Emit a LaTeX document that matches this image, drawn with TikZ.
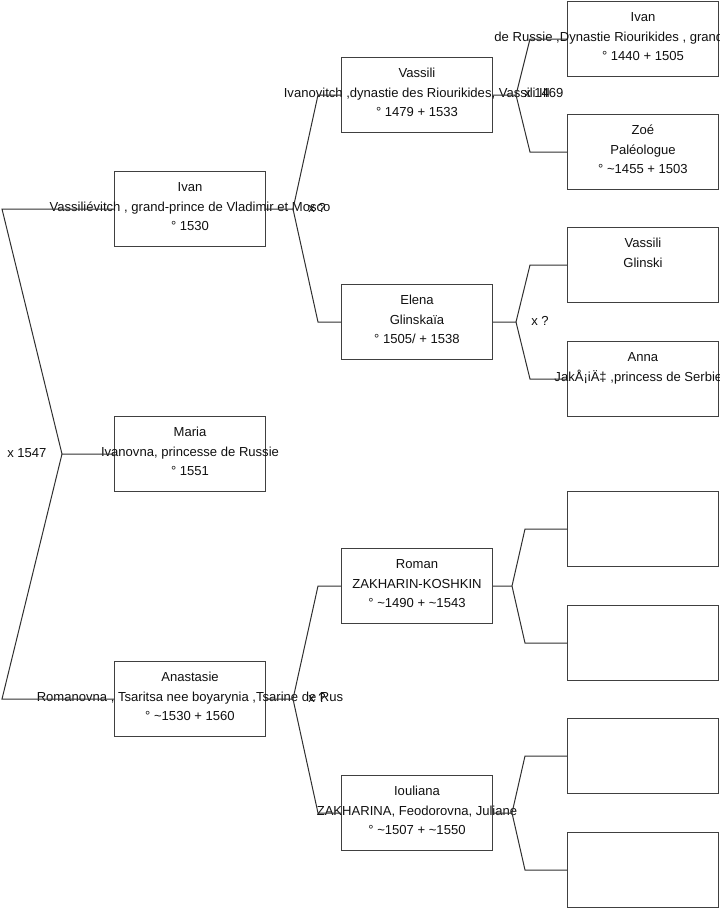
\documentclass[tikz,border=0pt]{standalone}
\usepackage{fontspec}
\setmainfont{Liberation Sans}
\usepackage{tikz}
\usetikzlibrary{calc}
\definecolor{treeInk}{HTML}{101010}
\definecolor{treeLine}{HTML}{303030}
\definecolor{treeFrame}{HTML}{404040}
% three centred lines, set from the top of the card
\newcommand{\card}[3]{\parbox[c][56.25pt][t]{113.25pt}{\vspace*{4.6pt}\centering
  \makebox[0pt]{\strut #1}\\\makebox[0pt]{\strut #2}\\\makebox[0pt]{\strut #3}}}
% a line that starts a given distance left of the card centre
\newcommand{\fromleft}[2]{\makebox[0pt][l]{\hspace*{-#1}#2}}
\tikzset{
  tree/card/.style  = {draw=treeFrame, line width=0.75pt, inner sep=0pt, anchor=north west,
                       minimum width=113.25pt, minimum height=56.25pt,
                       font=\fontsize{9.8}{14.8}\selectfont, text=treeInk},
  tree/link/.style  = {draw=treeLine, line width=0.75pt},
  tree/union/.style = {inner sep=0pt, anchor=west, font=\fontsize{9.8}{11}\selectfont, text=treeInk},
}

\begin{document}
\begin{tikzpicture}[x=0.75pt, y=-0.75pt]
  \useasboundingbox (0,0) rectangle (719,908);
  % generation 1
  \node[tree/card] (ivan1) at (114,171)
        {\card{Ivan}{Vassiliévitch , grand-prince de Vladimir et Mosco}{° 1530}};
  \node[tree/card] (maria) at (114,416)
        {\card{Maria}{Ivanovna, princesse de Russie}{° 1551}};
  \node[tree/card] (anast) at (114,661)
        {\card{Anastasie}{Romanovna , Tsaritsa nee boyarynia ,Tsarine de Rus}{° \textasciitilde1530 + 1560}};
  % generation 2
  \node[tree/card] (vassili2) at (341,57)
        {\card{Vassili}{Ivanovitch ,dynastie des Riourikides,  Vassili III}{° 1479 + 1533}};
  \node[tree/card] (elena) at (341,284)
        {\card{Elena}{Glinskaïa}{° 1505/ + 1538}};
  \node[tree/card] (roman) at (341,548)
        {\card{Roman}{ZAKHARIN-KOSHKIN}{° \textasciitilde1490 + \textasciitilde1543}};
  \node[tree/card] (iouliana) at (341,775)
        {\card{Iouliana}{ZAKHARINA, Feodorovna, Juliane}{° \textasciitilde1507 + \textasciitilde1550}};
  % generation 3
  \node[tree/card] (ivan3) at (567,1)
        {\card{Ivan}{\fromleft{111.4pt}{de Russie ,Dynastie Riourikides , grand-prince}}{° 1440 + 1505}};
  \node[tree/card] (zoe) at (567,114)
        {\card{Zoé}{Paléologue}{° \textasciitilde1455 + 1503}};
  \node[tree/card] (glinski) at (567,227) {\card{Vassili}{Glinski}{}};
  \node[tree/card] (anna) at (567,341)
        {\card{Anna}{\fromleft{66.4pt}{JakÅ¡iÄ‡ ,princess de Serbie}}{}};
  \node[tree/card] (romanF) at (567,491) {};
  \node[tree/card] (romanM) at (567,605) {};
  \node[tree/card] (ioulianaF) at (567,718) {};
  \node[tree/card] (ioulianaM) at (567,832) {};
  % parents of Maria
  \coordinate (mariaM) at ($(maria.west)+(-52,0)$);
  \draw[tree/link] (ivan1.west) -- ++(-112,0) -- (mariaM) -- (maria.west);
  \draw[tree/link] (anast.west) -- ++(-112,0) -- (mariaM);
  \node[tree/union] (uMaria) at ($(mariaM)+(-55,-1)$) {x 1547};
  % parents of Ivan
  \coordinate (ivanM) at ($(ivan1.east)+(27,0)$);
  \draw[tree/link] (ivan1.east) -- (ivanM) -- ($(vassili2.west)+(-23,0)$) -- (vassili2.west);
  \draw[tree/link] (ivanM) -- ($(elena.west)+(-23,0)$) -- (elena.west);
  \node[tree/union] (uIvan) at ($(ivanM)+(15,-1)$) {x ?};
  % parents of Anastasie
  \coordinate (anastM) at ($(anast.east)+(27,0)$);
  \draw[tree/link] (anast.east) -- (anastM) -- ($(roman.west)+(-23,0)$) -- (roman.west);
  \draw[tree/link] (anastM) -- ($(iouliana.west)+(-23,0)$) -- (iouliana.west);
  \node[tree/union] (uAnast) at ($(anastM)+(15,-1)$) {x ?};
  % parents of Vassili
  \coordinate (vassiliM) at ($(vassili2.east)+(23,0)$);
  \draw[tree/link] (vassili2.east) -- (vassiliM) -- ($(ivan3.west)+(-37,0)$) -- (ivan3.west);
  \draw[tree/link] (vassiliM) -- ($(zoe.west)+(-37,0)$) -- (zoe.west);
  \node[tree/union] (uVassili) at ($(vassiliM)+(8,-2)$) {x 1469};
  % parents of Elena
  \coordinate (elenaM) at ($(elena.east)+(23,0)$);
  \draw[tree/link] (elena.east) -- (elenaM) -- ($(glinski.west)+(-37,0)$) -- (glinski.west);
  \draw[tree/link] (elenaM) -- ($(anna.west)+(-37,0)$) -- (anna.west);
  \node[tree/union] (uElena) at ($(elenaM)+(15,-1)$) {x ?};
  % parents of Roman
  \coordinate (romanX) at ($(roman.east)+(19,0)$);
  \draw[tree/link] (roman.east) -- (romanX) -- ($(romanF.west)+(-42,0)$) -- (romanF.west);
  \draw[tree/link] (romanX) -- ($(romanM.west)+(-42,0)$) -- (romanM.west);
  % parents of Iouliana
  \coordinate (ioulianaX) at ($(iouliana.east)+(19,0)$);
  \draw[tree/link] (iouliana.east) -- (ioulianaX) -- ($(ioulianaF.west)+(-42,0)$) -- (ioulianaF.west);
  \draw[tree/link] (ioulianaX) -- ($(ioulianaM.west)+(-42,0)$) -- (ioulianaM.west);
\end{tikzpicture}
\end{document}
